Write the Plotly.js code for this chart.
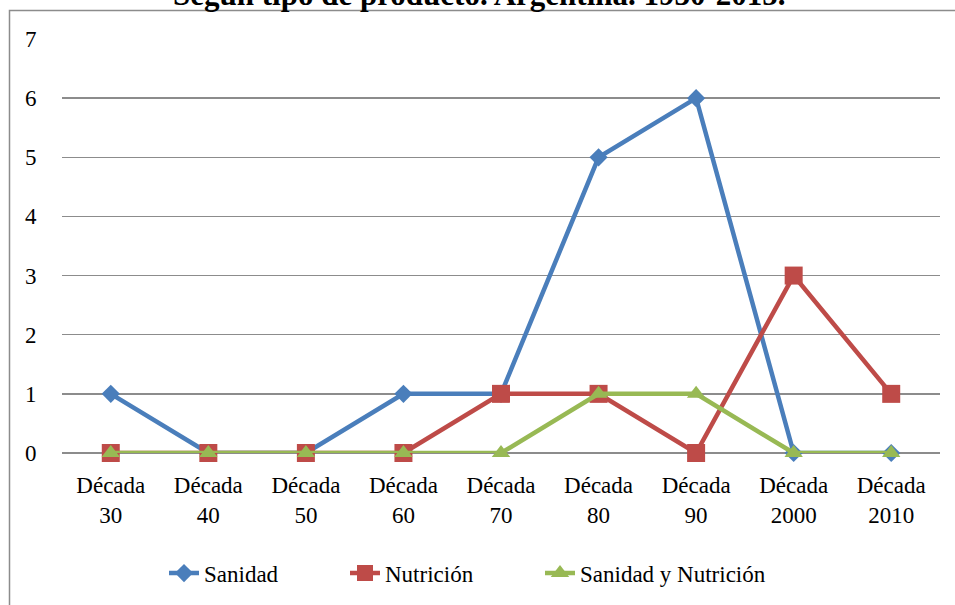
<!DOCTYPE html>
<html>
<head>
<meta charset="utf-8">
<script src="https://cdn.plot.ly/plotly-3.0.1.min.js"></script>
<style>
html,body{margin:0;padding:0;background:#fff;}
#chart{width:955px;height:605px;}
</style>
</head>
<body>
<div id="chart"></div>
<script>
const categories = ["Década<br>30","Década<br>40","Década<br>50","Década<br>60","Década<br>70","Década<br>80","Década<br>90","Década<br>2000","Década<br>2010"];
const sanidad = [1,0,0,1,1,5,6,0,0];
const nutricion = [0,0,0,0,1,1,0,3,1];
const sanidadYNutricion = [0,0,0,0,0,1,1,0,0];
const seriesNames = ["Sanidad","Nutrición","Sanidad y Nutrición"];
const titleText = "Según tipo de producto. Argentina. 1930-2015.";

const FONT = 'Liberation Serif, Times New Roman, serif';
const xs = categories.map((c,i)=>i);

const traces = [
  {x: xs, y: sanidad, name: seriesNames[0], mode: 'lines+markers', cliponaxis: false, legend: 'legend',
   line: {color: '#4A7EBB', width: 4.5},
   marker: {symbol: 'diamond', size: 14, color: '#4A7EBB', line: {width: 0}}},
  {x: xs, y: nutricion, name: seriesNames[1], mode: 'lines+markers', cliponaxis: false, legend: 'legend2',
   line: {color: '#BE4B48', width: 4.5},
   marker: {symbol: 'square', size: 18, color: '#BE4B48', line: {width: 0}}},
  {x: xs, y: sanidadYNutricion, name: seriesNames[2], mode: 'lines+markers', cliponaxis: false, legend: 'legend3',
   line: {color: '#98B954', width: 4.5},
   marker: {symbol: 'triangle-up', size: 16, color: '#98B954', line: {width: 0}}}
];

function leg(px) {
  return {orientation: 'h', x: (px-62)/878, xanchor: 'left', y: -0.287, yanchor: 'middle',
          font: {family: FONT, size: 23, color: '#000'}, itemsizing: 'trace', bgcolor: 'rgba(0,0,0,0)'};
}

const layout = {
  width: 955, height: 605,
  margin: {l: 62, r: 15, t: 39, b: 151},
  paper_bgcolor: '#fff', plot_bgcolor: '#fff',
  font: {family: FONT, size: 23, color: '#000'},
  showlegend: true,
  legend: leg(164),
  legend2: leg(345),
  legend3: leg(540),
  xaxis: {
    tickmode: 'array', tickvals: xs, ticktext: categories,
    range: [-0.5, 8.5], showgrid: false, zeroline: false,
    showline: false, ticks: 'outside', ticklen: 11, tickcolor: 'rgba(0,0,0,0)',
    tickfont: {family: FONT, size: 23, color: '#000'}, fixedrange: true
  },
  yaxis: {
    range: [0, 7], dtick: 1, tick0: 0,
    showgrid: true, gridcolor: '#8C8C8C', gridwidth: 1.3,
    zeroline: true, zerolinecolor: '#8C8C8C', zerolinewidth: 1.5,
    showline: false, ticks: 'outside', ticklen: 20, tickcolor: 'rgba(0,0,0,0)',
    tickfont: {family: FONT, size: 23, color: '#000'}, fixedrange: true
  },
  shapes: [{
    type: 'rect', xref: 'paper', yref: 'paper',
    x0: (9.5-62)/878, x1: (960-62)/878,
    y0: (454-10.5)/415, y1: (454-620)/415,
    line: {color: '#8C8C8C', width: 1.5}, fillcolor: 'rgba(0,0,0,0)', layer: 'below'
  }],
  annotations: [{
    text: '<b>' + titleText + '</b>', xref: 'paper', yref: 'paper',
    x: (479-62)/878, xanchor: 'center', y: (454-14)/415, yanchor: 'bottom',
    showarrow: false, font: {family: FONT, size: 31, color: '#000'}
  }]
};

Plotly.newPlot('chart', traces, layout, {displayModeBar: false, staticPlot: true});
</script>
</body>
</html>
